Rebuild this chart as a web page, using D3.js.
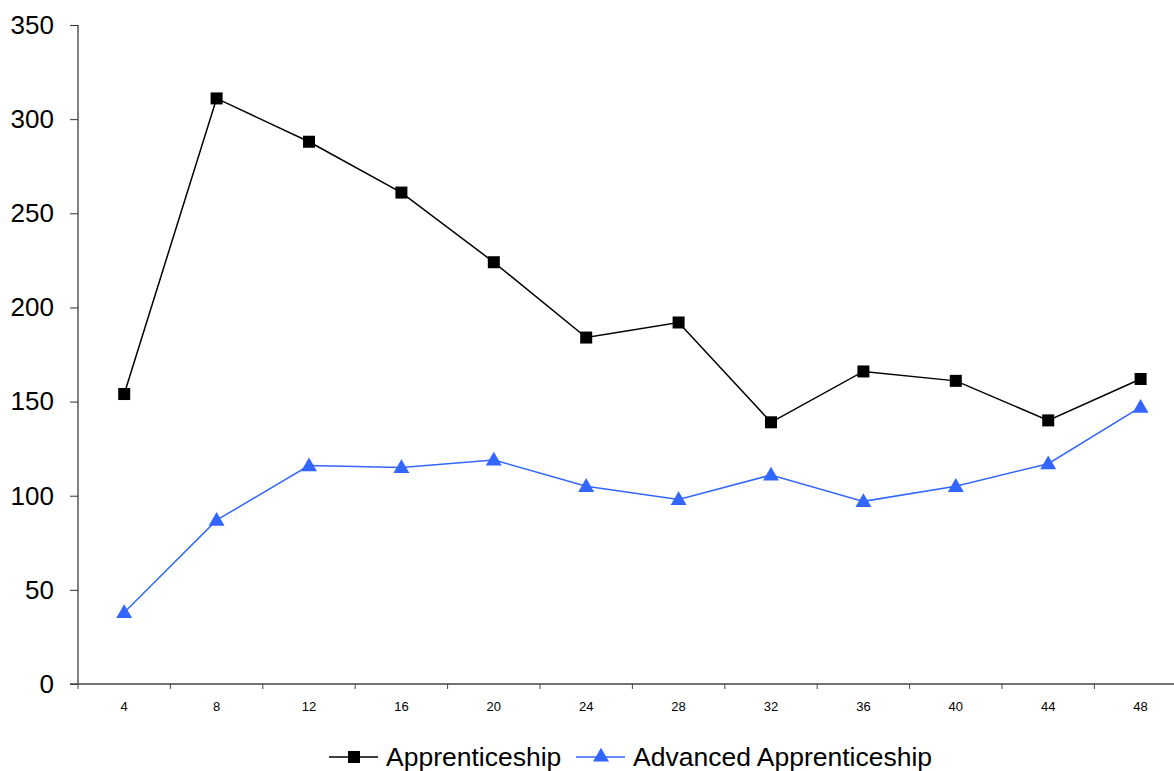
<!DOCTYPE html>
<html>
<head>
<meta charset="utf-8">
<script src="https://cdn.jsdelivr.net/npm/d3@7"></script>
<style>
  body { margin: 0; background: #fff; }
  svg text { font-family: "Liberation Sans", Arial, sans-serif; }
</style>
</head>
<body>
<svg id="chart" width="1174" height="771"></svg>
<script>
// weeks / months on the x axis
var categories = ["4", "8", "12", "16", "20", "24", "28", "32", "36", "40", "44", "48"];
var apprenticeship = [154, 311, 288, 261, 224, 184, 192, 139, 166, 161, 140, 162];
var advanced = [38, 87, 116, 115, 119, 105, 98, 111, 97, 105, 117, 147];
var yTicks = [0, 50, 100, 150, 200, 250, 300, 350];

var svg = d3.select("#chart");
var plotLeft = 78, plotTop = 25, plotBottom = 684;

var x = d3.scaleBand()
  .domain(categories)
  .range([plotLeft, plotLeft + 12 * 92.4]);

var y = d3.scaleLinear()
  .domain([0, 350])
  .range([plotBottom, plotTop]);

// y axis
var yAxis = svg.append("g")
  .attr("transform", "translate(" + plotLeft + ",0)")
  .call(d3.axisLeft(y).tickValues(yTicks).tickSize(8).tickPadding(16));
yAxis.select(".domain").attr("stroke", "#808080").attr("stroke-width", 2).attr("d", "M0," + plotTop + "V" + plotBottom);
yAxis.selectAll(".tick line").attr("stroke", "#333");
yAxis.selectAll("text").attr("font-size", 26).attr("fill", "#000");

// x axis, ticks between the categories
var xAxis = svg.append("g")
  .attr("transform", "translate(0," + plotBottom + ")");
xAxis.append("line")
  .attr("x1", plotLeft - 8).attr("x2", 1174)
  .attr("stroke", "#444").attr("stroke-width", 1.5);
xAxis.selectAll(".tk")
  .data(categories)
  .enter().append("line")
  .attr("class", "tk")
  .attr("x1", d => x(d)).attr("x2", d => x(d))
  .attr("y1", 0).attr("y2", 5)
  .attr("stroke", "#444");
xAxis.selectAll(".lbl")
  .data(categories)
  .enter().append("text")
  .attr("class", "lbl")
  .attr("x", d => x(d) + x.bandwidth() / 2)
  .attr("y", 27)
  .attr("text-anchor", "middle")
  .attr("font-size", 13)
  .text(d => d);

var cx = (d, i) => x(categories[i]) + x.bandwidth() / 2;
var line = d3.line().x(cx).y(d => y(d));

svg.append("path")
  .datum(apprenticeship)
  .attr("d", line)
  .attr("fill", "none")
  .attr("stroke", "#000")
  .attr("stroke-width", 1.5);

svg.append("path")
  .datum(advanced)
  .attr("d", line)
  .attr("fill", "none")
  .attr("stroke", "#3366ff")
  .attr("stroke-width", 1.5);

svg.append("g").selectAll("rect")
  .data(apprenticeship)
  .enter().append("rect")
  .attr("x", (d, i) => cx(d, i) - 6)
  .attr("y", d => y(d) - 6)
  .attr("width", 12).attr("height", 12)
  .attr("fill", "#000");

var tri = d3.symbol().type(d3.symbolTriangle).size(110);
svg.append("g").selectAll("path")
  .data(advanced)
  .enter().append("path")
  .attr("d", tri)
  .attr("transform", (d, i) => "translate(" + cx(d, i) + "," + (y(d) + 1) + ")")
  .attr("fill", "#3366ff");

// legend
var legend = [
  {name: "Apprenticeship", color: "#000", marker: "square", x: 329},
  {name: "Advanced Apprenticeship", color: "#3366ff", marker: "triangle", x: 576}
];
var lg = svg.append("g").selectAll("g")
  .data(legend)
  .enter().append("g")
  .attr("transform", d => "translate(" + d.x + ",757)");
lg.append("line")
  .attr("x1", 0).attr("x2", 49)
  .attr("stroke", d => d.color).attr("stroke-width", 1.5);
lg.filter(d => d.marker == "square").append("rect")
  .attr("x", 19).attr("y", -6).attr("width", 12).attr("height", 12)
  .attr("fill", "#000");
lg.filter(d => d.marker == "triangle").append("path")
  .attr("d", tri)
  .attr("transform", "translate(25,0)")
  .attr("fill", "#3366ff");
lg.append("text")
  .attr("x", 57).attr("y", 9)
  .attr("font-size", 26.5)
  .text(d => d.name);
</script>
</body>
</html>
